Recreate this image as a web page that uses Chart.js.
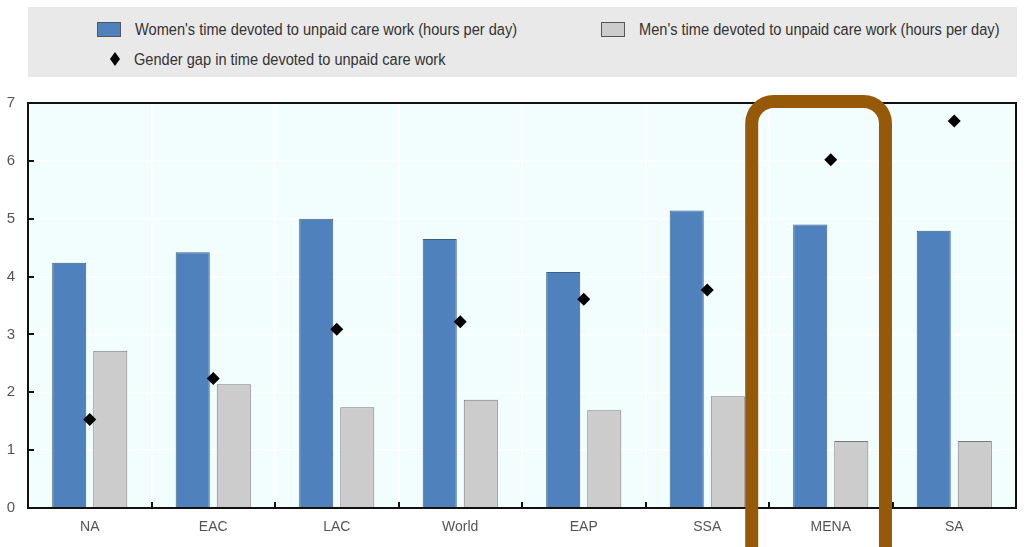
<!DOCTYPE html>
<html>
<head>
<meta charset="utf-8">
<script src="https://cdn.jsdelivr.net/npm/chart.js@4.4.1/dist/chart.umd.min.js"></script>
<style>
  html, body { margin: 0; padding: 0; background: #ffffff; }
  #wrap { position: relative; width: 1030px; height: 547px; overflow: hidden; }
  #chart { position: absolute; left: 0; top: 0; }
  #legend {
    position: absolute; left: 28px; top: 7px; width: 989px; height: 70px;
    background: #e9e9e9;
    font-family: 'Liberation Sans', Arial, sans-serif;
    font-size: 14.6px; color: #333;
  }
  .item { position: absolute; display: flex; align-items: center; white-space: nowrap; }
  .item .txt { display: inline-block; transform: scaleY(1.18); }
  .swatch { width: 24px; height: 15px; border: 1px solid #555; box-sizing: border-box; margin-right: 14px; }
  .diamond { width: 10px; height: 14px; background: #000; clip-path: polygon(50% 0, 100% 50%, 50% 100%, 0 50%); margin-left: 13px; margin-right: 14px; }
</style>
</head>
<body>
<div id="wrap">
  <canvas id="chart" width="1030" height="547"></canvas>
  <div id="legend"></div>
</div>
<script>
// Regions and hours per day of unpaid care work
const categories = ['NA', 'EAC', 'LAC', 'World', 'EAP', 'SSA', 'MENA', 'SA'];
const womenHours = [4.24, 4.42, 5.00, 4.65, 4.08, 5.14, 4.90, 4.79];
const menHours   = [2.72, 2.14, 1.74, 1.87, 1.69, 1.93, 1.16, 1.16];
const gapValues  = [1.53, 2.24, 3.09, 3.22, 3.61, 3.77, 6.02, 6.69];
const yTicks = [0, 1, 2, 3, 4, 5, 6, 7];

const seriesLabels = {
  women: "Women's time devoted to unpaid care work (hours per day)",
  men: "Men's time devoted to unpaid care work (hours per day)",
  gap: 'Gender gap in time devoted to unpaid care work'
};
const colors = { women: '#4f81bd', womenEdge: '#3b5f8a', men: '#cccccc', menEdge: '#7a7a7a', gap: '#000000' };
const highlightIndex = categories.indexOf('MENA');

const FONT = "'Liberation Sans', Arial, sans-serif";

// HTML legend
const legend = document.getElementById('legend');
legend.innerHTML =
  '<div class="item" style="left:69px;top:14px"><span class="swatch" style="background:' + colors.women + '"></span><span class="txt">' + seriesLabels.women + '</span></div>' +
  '<div class="item" style="left:573px;top:14px"><span class="swatch" style="background:' + colors.men + '"></span><span class="txt">' + seriesLabels.men + '</span></div>' +
  '<div class="item" style="left:69px;top:44px"><span class="diamond"></span><span class="txt">' + seriesLabels.gap + '</span></div>';

// Light cyan plot background
const plotBackground = {
  id: 'plotBackground',
  beforeDraw(chart) {
    const { ctx, chartArea: a } = chart;
    ctx.save();
    ctx.fillStyle = '#f2fefe';
    ctx.fillRect(a.left, a.top, a.right - a.left, a.bottom - a.top);
    ctx.restore();
  }
};

// Frame with inward tick marks
const frame = {
  id: 'frame',
  afterDatasetsDraw(chart) {
    const { ctx, chartArea: a, scales } = chart;
    const x = scales.x, y = scales.y;
    ctx.save();
    ctx.strokeStyle = '#111';
    ctx.lineWidth = 2;
    ctx.beginPath();
    yTicks.forEach(v => {
      const py = Math.round(y.getPixelForValue(v));
      ctx.moveTo(a.left, py);
      ctx.lineTo(a.left + 6, py);
    });
    for (let i = 0; i < categories.length - 1; i++) {
      const px = Math.round((x.getPixelForValue(i) + x.getPixelForValue(i + 1)) / 2);
      ctx.moveTo(px, a.bottom);
      ctx.lineTo(px, a.bottom - 6);
    }
    ctx.stroke();
    ctx.strokeRect(a.left, a.top, a.right - a.left, a.bottom - a.top);
    ctx.restore();
  }
};

// Rounded outline around the highlighted region
const highlight = {
  id: 'highlight',
  afterDraw(chart) {
    const { ctx, chartArea: a, scales } = chart;
    const x = scales.x;
    const c = x.getPixelForValue(highlightIndex);
    const w = x.getPixelForValue(highlightIndex + 1) - c;
    const left = c - 0.64 * w, right = c + 0.443 * w;
    const top = a.top - 1.5, bottom = chart.height + 30;
    ctx.save();
    ctx.strokeStyle = '#955907';
    ctx.lineWidth = 13;
    ctx.beginPath();
    ctx.roundRect(left, top, right - left, bottom - top, 22);
    ctx.stroke();
    ctx.restore();
  }
};

new Chart(document.getElementById('chart'), {
  type: 'bar',
  data: {
    labels: categories,
    datasets: [
      {
        type: 'line', label: seriesLabels.gap, data: gapValues,
        showLine: false, pointStyle: 'rectRot', pointRadius: 6.5, pointHoverRadius: 6.5,
        backgroundColor: colors.gap, borderColor: colors.gap, borderWidth: 0, order: 0
      },
      {
        label: seriesLabels.women, data: womenHours,
        backgroundColor: colors.women, borderColor: colors.womenEdge, borderWidth: 1,
        categoryPercentage: 0.665, barPercentage: 0.83, order: 1
      },
      {
        label: seriesLabels.men, data: menHours,
        backgroundColor: colors.men, borderColor: colors.menEdge, borderWidth: 1,
        categoryPercentage: 0.665, barPercentage: 0.83, order: 1
      }
    ]
  },
  options: {
    responsive: false,
    animation: false,
    layout: { padding: { top: 103, right: 14, bottom: 0, left: 0 } },
    plugins: { legend: { display: false }, tooltip: { enabled: false } },
    scales: {
      x: {
        offset: true,
        grid: { offset: true, color: '#ffffff', lineWidth: 1.5, drawTicks: false },
        border: { display: false },
        ticks: { color: '#555', padding: 11, font: { family: FONT, size: 14 } },
        afterFit(s) { s.height = 39; }
      },
      y: {
        min: 0, max: 7,
        afterBuildTicks(s) { s.ticks = yTicks.map(v => ({ value: v })); },
        grid: { color: '#ffffff', lineWidth: 1.5, drawTicks: false },
        border: { display: false },
        ticks: { color: '#555', padding: 13, font: { family: FONT, size: 15 } },
        afterFit(s) { s.width = 28; }
      }
    }
  },
  plugins: [plotBackground, frame, highlight]
});
</script>
</body>
</html>
